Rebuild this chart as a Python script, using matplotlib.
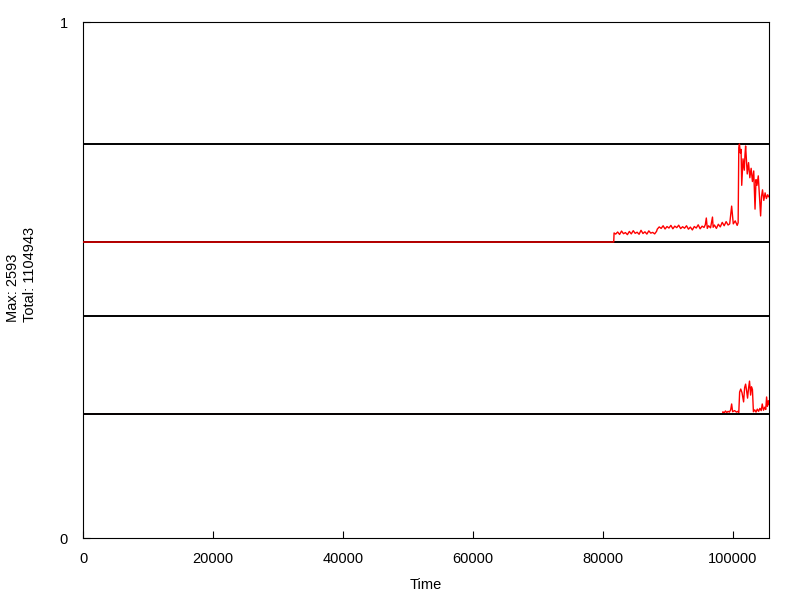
import matplotlib
matplotlib.use("Agg")
import matplotlib.pyplot as plt
import numpy as np

plt.rcParams['font.family'] = ['Liberation Sans', 'DejaVu Sans']

# ---- data ----
max_count = 2593
total_count = 1104943
x_max = 105600
x_ticks = [0, 20000, 40000, 60000, 80000, 100000]
y_ticks = [0, 1]

# band baselines (axis fraction 0..1) and band height
band_bases = [0.5736, 0.2403]
band_height = 0.19

# series 1 (upper band)
t1 = [0, 81700, 81750, 82000, 82300, 82600, 82900, 83200, 83500, 83800, 84100, 84400,
      84700, 85000, 85300, 85600, 85900, 86200, 86500, 86800, 87100, 87400, 87700,
      88000, 88300, 88400, 88700, 89000, 89300, 89600, 89900, 90200, 90500, 90800,
      91100, 91400, 91700, 92000, 92300, 92600, 92900, 93200, 93500, 93800, 94100,
      94400, 94700, 95000, 95300, 95600, 95800, 95950, 96100, 96300, 96600, 96900,
      97000, 97200, 97500, 97800, 98100, 98400, 98700, 99000, 99300, 99550, 99850,
      100100, 100400, 100700, 100850, 100950, 101050, 101200, 101300, 101400, 101600,
      101800, 101900, 102000, 102250, 102450, 102650, 102850, 103050, 103250, 103450,
      103600, 103750, 103950, 104100, 104310, 104450, 104600, 104800, 105000, 105200,
      105400, 105550]
v1 = [0, 0, 240, 210, 265, 200, 290, 220, 250, 195, 280, 215,
      300, 230, 260, 205, 310, 225, 270, 210, 295, 235, 255,
      215, 285, 340, 400, 360, 430, 345, 410, 370, 440, 350,
      420, 380, 445, 355, 405, 365, 430, 340, 395, 320, 410,
      370, 455, 350, 420, 385, 460, 635, 360, 430, 375, 660,
      390, 450, 360, 470, 400, 520, 430, 540, 450, 480, 950,
      480, 560, 440, 510, 2500, 2593, 2350, 2450, 1500, 2200,
      1900, 2300, 2540, 1800, 2100, 1700, 1950, 1600, 1880, 870,
      1650, 1500, 1750, 1300, 690, 1200, 1380, 1100, 1300, 1150,
      1250, 1200]

# series 2 (lower band)
t2 = [0, 98460, 98500, 98700, 98900, 99100, 99300, 99500, 99700, 99850, 100000,
      100300, 100600, 100800, 100950, 101080, 101250, 101450, 101690, 101850,
      102000, 102150, 102300, 102450, 102600, 102770, 102900, 103050, 103200,
      103400, 103600, 103800, 104000, 104200, 104400, 104560, 104750, 104950,
      105100, 105230, 105350, 105500, 105600]
v2 = [0, 0, 60, 30, 80, 40, 70, 50, 110, 265, 60,
      90, 50, 70, 40, 580, 660, 560, 320, 700,
      790, 620, 420, 680, 870, 500, 720, 650, 60,
      110, 50, 130, 70, 150, 90, 265, 100, 180,
      120, 450, 200, 350, 250]

W, H = 800, 600
fig = plt.figure(figsize=(8, 6), dpi=100)
ax = fig.add_axes([83/W, 62/H, (769-83)/W, (538-22)/H])

# upper band: black lines under red
ax.axhline(band_bases[0] + band_height, color='black', lw=1.4, zorder=2)
ax.axhline(band_bases[0], color='black', lw=1.4, zorder=2)
ax.plot(t1, band_bases[0] + np.array(v1) / max_count * band_height,
        color='#ff0000', lw=1.0, zorder=3)

# lower band: red under black
ax.plot(t2, band_bases[1] + np.array(v2) / max_count * band_height,
        color='#ff0000', lw=1.0, zorder=3)
ax.axhline(band_bases[1] + band_height, color='black', lw=1.4, zorder=4)
ax.axhline(band_bases[1], color='black', lw=1.4, zorder=4)

ax.set_xlim(0, x_max)
ax.set_ylim(0, 1)
ax.set_xticks(x_ticks)
ax.set_xticklabels([str(v) for v in x_ticks])
ax.set_yticks(y_ticks)
ax.set_yticklabels([str(v) for v in y_ticks])
ax.tick_params(direction='in', length=5, width=0.8, labelsize=10.5)
ax.tick_params(axis='x', pad=10)
ax.tick_params(axis='y', pad=11)
for s in ax.spines.values():
    s.set_linewidth(0.8)

fig.text(426/W, 1 - 585/H, 'Time', fontsize=10.5, ha='center', va='center')
fig.text(21.5/W, 1 - 274.5/H, 'Max: %d\nTotal: %d' % (max_count, total_count),
         fontsize=10.5, rotation=90, ha='center', va='center',
         multialignment='left', linespacing=1.3)

fig.savefig('out.png', dpi=100)
